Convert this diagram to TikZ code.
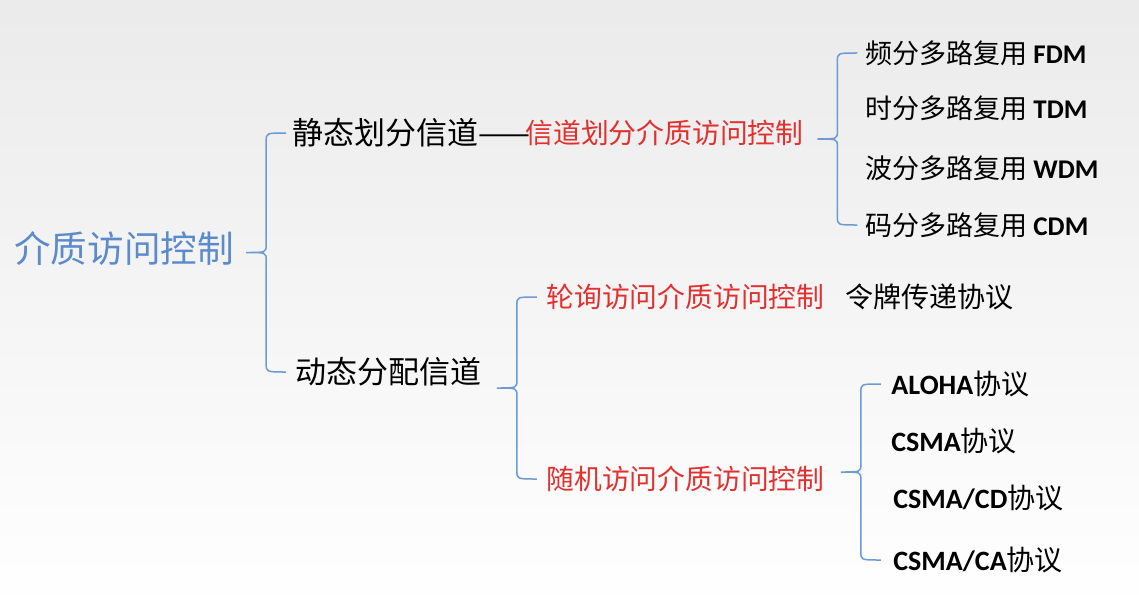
\documentclass[tikz,border=0pt]{standalone}
\usepackage{fontspec}
\setmainfont{Noto Sans CJK SC}
\newfontfamily\latfont{Carlito}
\usetikzlibrary{calc}

\definecolor{rootblue}{HTML}{5B8BCB}
\definecolor{braceblue}{HTML}{6C9AD3}
\definecolor{keyred}{HTML}{E2302F}

\newcommand{\fsz}[1]{\fontsize{#1}{#1}\selectfont}
\newcommand{\abbr}[1]{{\latfont\bfseries #1}}

% brace from a parent node to its first and last child
\newcommand{\linkbrace}[3]{%
  \draw[bracket] let \p1=(#1.east), \p2=(#2.west), \p3=(#3.west),
      \n1={(\x1+\x2)/2+1.5pt}, \n2={(\y2+\y3)/2} in
    (\n1+10pt,\y2) .. controls (\n1+0pt,\y2) .. (\n1+0pt,\y2-4pt)
    -- (\n1+0pt,\n2+4pt) .. controls (\n1+0pt,\n2+0pt) .. (\n1-10pt,\n2+0pt)
    .. controls (\n1+0pt,\n2+0pt) .. (\n1+0pt,\n2-4pt)
    -- (\n1+0pt,\y3+4pt) .. controls (\n1+0pt,\y3) .. (\n1+10pt,\y3);}

\begin{document}
\begin{tikzpicture}[
    x=0.5pt, y=-0.5pt,
    item/.style={anchor=west, inner sep=0pt},
    root/.style={item, text=rootblue, font=\fsz{18.3pt}},
    branch/.style={item, font=\fsz{15.5pt}},
    method/.style={item, text=keyred, font=\fsz{13.9pt}},
    leaf/.style={item, font=\fsz{13.5pt}},
    proto/.style={item, font=\fsz{14pt}},
    bracket/.style={draw=braceblue, line width=0.75pt}
  ]
  \useasboundingbox (0,0) rectangle (1139,610);
  \fill[top color=black!8, bottom color=white] (0,0) rectangle (1139,610);

  \node[root] (mac) at (14,248) {介质访问控制};

  \node[branch] (static) at (292,133) {静态划分信道——};
  \node[method] (chdiv) at (525,133) {信道划分介质访问控制};
  \node[branch] (dynamic) at (295,372) {动态分配信道};

  \node[leaf] (fdm) at (865,53) {频分多路复用 \abbr{FDM}};
  \node[leaf] (tdm) at (865,108) {时分多路复用 \abbr{TDM}};
  \node[leaf] (wdm) at (865,168) {波分多路复用 \abbr{WDM}};
  \node[leaf] (cdm) at (865,225) {码分多路复用 \abbr{CDM}};

  \node[method] (polling) at (546,297) {轮询访问介质访问控制};
  \node[proto] (token) at (845,297) {令牌传递协议};
  \node[method] (random) at (546,479) {随机访问介质访问控制};

  \node[proto] (aloha) at (891,384) {\abbr{ALOHA}协议};
  \node[proto] (csma) at (891,441) {\abbr{CSMA}协议};
  \node[proto] (csmacd) at (893,498) {\abbr{CSMA/CD}协议};
  \node[proto] (csmaca) at (893,560) {\abbr{CSMA/CA}协议};

  \linkbrace{mac}{static}{dynamic}
  \linkbrace{chdiv}{fdm}{cdm}
  \linkbrace{dynamic}{polling}{random}
  \linkbrace{random}{aloha}{csmaca}
\end{tikzpicture}
\end{document}
